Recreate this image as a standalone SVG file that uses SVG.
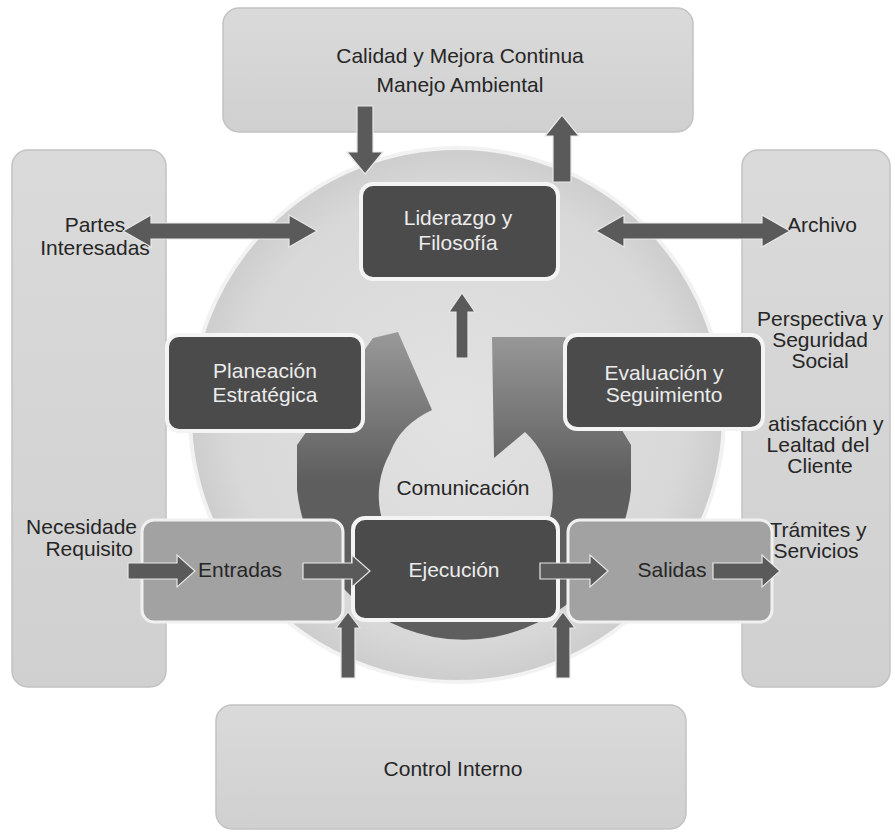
<svg xmlns="http://www.w3.org/2000/svg" width="895" height="833" viewBox="0 0 895 833">
<defs>
<radialGradient id="circG" cx="0.5" cy="0.5" r="0.5">
<stop offset="0" stop-color="#e2e2e2"/>
<stop offset="0.85" stop-color="#d8d8d8"/>
<stop offset="1" stop-color="#cdcdcd"/>
</radialGradient>
<linearGradient id="ringG" gradientUnits="userSpaceOnUse" x1="0" y1="330" x2="0" y2="480">
<stop offset="0" stop-color="#9a9a9a"/>
<stop offset="1" stop-color="#5e5e5e"/>
</linearGradient>
<linearGradient id="outerG" x1="0" y1="0" x2="0" y2="1">
<stop offset="0" stop-color="#dadada"/>
<stop offset="1" stop-color="#d0d0d0"/>
</linearGradient>
</defs>
<style>
.outer{fill:url(#outerG);stroke:#c2c2c2;stroke-width:1.5}
.dark{fill:#4b4b4b;stroke:#f4f4f4;stroke-width:4}
.mid{fill:#a2a2a2;stroke:#f0f0f0;stroke-width:3}
.arr{fill:#5a5a5a;stroke:#e8e8e8;stroke-width:1.2}
text{font-family:"Liberation Sans",Arial,sans-serif;font-size:21px}
.lbl{fill:#262626;text-anchor:middle}
.lt{fill:#ececec;text-anchor:middle}
</style>

<g id="calidad">
<rect class="outer" x="223" y="8" width="470" height="124" rx="16"/>
<text class="lbl" x="460" y="63">Calidad y Mejora Continua</text>
<text class="lbl" x="460" y="92">Manejo Ambiental</text>
</g>

<g id="lado-izquierdo">
<rect class="outer" x="12" y="150" width="154" height="537" rx="16"/>
<text class="lbl" x="95" y="232">Partes</text>
<text class="lbl" x="95" y="255">Interesadas</text>
<text class="lbl" x="137" y="534" style="text-anchor:end">Necesidade</text>
<text class="lbl" x="133" y="556" style="text-anchor:end">Requisito</text>
</g>

<g id="lado-derecho">
<rect class="outer" x="742" y="150" width="148" height="537" rx="16"/>
<text class="lbl" x="822" y="232">Archivo</text>
<text class="lbl" x="820" y="326">Perspectiva y</text>
<text class="lbl" x="820" y="347">Seguridad</text>
<text class="lbl" x="820" y="368">Social</text>
<text class="lbl" x="768" y="431" style="text-anchor:start">atisfacción y</text>
<text class="lbl" x="818" y="452">Lealtad del</text>
<text class="lbl" x="820" y="473">Cliente</text>
<text class="lbl" x="818" y="537">Trámites y</text>
<text class="lbl" x="816" y="558">Servicios</text>
</g>

<g id="control-interno">
<rect class="outer" x="216" y="705" width="470" height="124" rx="16"/>
<text class="lbl" x="453" y="776">Control Interno</text>
</g>

<g id="circulo">
<circle cx="457" cy="415" r="267" fill="url(#circG)" stroke="#f2f2f2" stroke-width="4"/>
</g>

<g id="comunicacion">
<path d="M 398,332 L 373,338 L 297,445 L 297,490 A 168 168 0 0 0 631,490 L 631,445 L 565,337 L 492,337 L 494,458 L 525,432 A 87 87 0 1 1 390,453 Q 400,425 432,410 Z" fill="url(#ringG)"/>
<text class="lbl" x="463" y="495">Comunicación</text>
</g>

<g id="liderazgo">
<rect class="dark" x="361" y="184" width="197" height="95" rx="12"/>
<text class="lt" x="458" y="225">Liderazgo y</text>
<text class="lt" x="458" y="250">Filosofía</text>
</g>

<g id="planeacion">
<rect class="dark" x="167" y="335" width="196" height="96" rx="12"/>
<text class="lt" x="265" y="378">Planeación</text>
<text class="lt" x="265" y="402">Estratégica</text>
</g>

<g id="evaluacion">
<rect class="dark" x="565" y="335" width="198" height="94" rx="12"/>
<text class="lt" x="664" y="380">Evaluación y</text>
<text class="lt" x="664" y="402">Seguimiento</text>
</g>

<g id="entradas">
<rect class="mid" x="142" y="520" width="201" height="102" rx="12"/>
<text class="lbl" x="240" y="577">Entradas</text>
</g>

<g id="salidas">
<rect class="mid" x="568" y="520" width="204" height="102" rx="12"/>
<text class="lbl" x="672" y="577">Salidas</text>
</g>

<g id="ejecucion">
<rect class="dark" x="353" y="518" width="205" height="102" rx="12"/>
<text class="lt" x="454" y="577">Ejecución</text>
</g>

<g id="conectores">
<polygon class="arr" points="357,106 373,106 373,152 383,152 365,174 347,152 357,152"/>
<polygon class="arr" points="553,182 571,182 571,136 579,136 562,115 545,136 553,136"/>
<polygon class="arr" points="456,358 468,358 468,312 475,312 462,293 449,312 456,312"/>
<polygon class="arr" points="123,231 151,215 151,223 289,223 289,215 317,231 289,247 289,239 151,239 151,247"/>
<polygon class="arr" points="596,231 624,215 624,223 762,223 762,215 790,231 762,247 762,239 624,239 624,247"/>
<polygon class="arr" points="128,563 177,563 177,555 195,571 177,587 177,579 128,579"/>
<polygon class="arr" points="303,563 352,563 352,555 370,571 352,587 352,579 303,579"/>
<polygon class="arr" points="540,563 590,563 590,555 608,571 590,587 590,579 540,579"/>
<polygon class="arr" points="713,563 762,563 762,555 780,571 762,587 762,579 713,579"/>
<polygon class="arr" points="341,678 355,678 355,628 360,628 348,612 336,628 341,628"/>
<polygon class="arr" points="556,678 570,678 570,628 575,628 563,612 551,628 556,628"/>
</g>
</svg>
